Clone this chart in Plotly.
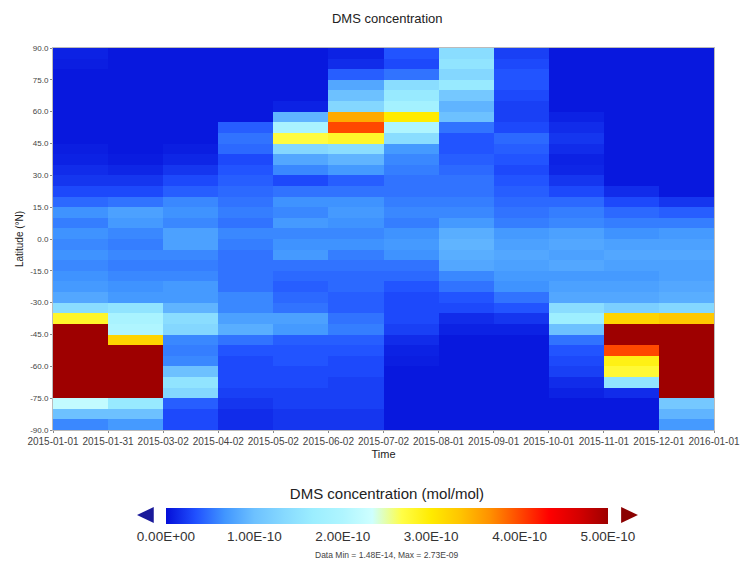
import plotly.graph_objects as go

# ---------------- data (DMS concentration, units of 1e-10 mol/mol) ----------------
# latitude band centres, north -> south (5 degree bands)
lat = [87.5, 82.5, 77.5, 72.5, 67.5, 62.5, 57.5, 52.5, 47.5, 42.5, 37.5, 32.5,
       27.5, 22.5, 17.5, 12.5, 7.5, 2.5, -2.5, -7.5, -12.5, -17.5, -22.5, -27.5,
       -32.5, -37.5, -42.5, -47.5, -52.5, -57.5, -62.5, -67.5, -72.5, -77.5, -82.5, -87.5]

time_labels = ["2015-01-01", "2015-01-31", "2015-03-02", "2015-04-02", "2015-05-02",
               "2015-06-02", "2015-07-02", "2015-08-01", "2015-09-01", "2015-10-01",
               "2015-11-01", "2015-12-01", "2016-01-01"]

jan = [0.1, 0.08, 0.05, 0.05, 0.05, 0.05, 0.05, 0.05, 0.05, 0.08, 0.1, 0.15,
       0.2, 0.3, 0.45, 0.65, 0.55, 0.65, 0.6, 0.65, 0.6, 0.65, 0.7, 0.8,
       1.4, 2.8, 6, 6, 6, 6, 6, 6, 6, 2.2, 1.0, 0.6]
feb = [0.05, 0.05, 0.05, 0.05, 0.05, 0.05, 0.05, 0.05, 0.05, 0.05, 0.07, 0.12,
       0.2, 0.3, 0.5, 0.75, 0.7, 0.6, 0.55, 0.6, 0.55, 0.6, 0.65, 0.7,
       1.5, 1.9, 2.0, 3.2, 6, 6, 6, 6, 5.5, 1.6, 1.0, 0.7]
mar = [0.05, 0.05, 0.05, 0.05, 0.05, 0.05, 0.05, 0.05, 0.05, 0.08, 0.12, 0.2,
       0.3, 0.4, 0.6, 0.65, 0.6, 0.75, 0.75, 0.6, 0.55, 0.6, 0.7, 0.7,
       0.9, 1.4, 1.3, 0.6, 0.55, 0.6, 1.0, 1.5, 1.3, 0.4, 0.3, 0.3]
apr = [0.05, 0.05, 0.05, 0.05, 0.05, 0.05, 0.05, 0.4, 0.5, 0.45, 0.3, 0.35,
       0.4, 0.45, 0.5, 0.55, 0.5, 0.6, 0.55, 0.5, 0.5, 0.5, 0.5, 0.6,
       0.6, 0.75, 0.85, 0.5, 0.35, 0.3, 0.3, 0.3, 0.25, 0.2, 0.15, 0.15]
may = [0.05, 0.05, 0.05, 0.05, 0.05, 0.1, 0.9, 1.9, 2.7, 1.3, 0.8, 0.6,
       0.3, 0.5, 0.65, 0.6, 0.7, 0.6, 0.65, 0.7, 0.5, 0.45, 0.4, 0.45,
       0.5, 0.75, 0.7, 0.4, 0.35, 0.35, 0.3, 0.3, 0.25, 0.25, 0.2, 0.2]
jun = [0.1, 0.15, 0.4, 0.8, 1.0, 1.3, 3.5, 4.0, 2.8, 1.4, 0.9, 0.7,
       0.4, 0.5, 0.65, 0.7, 0.65, 0.6, 0.65, 0.55, 0.5, 0.45, 0.45, 0.4,
       0.4, 0.5, 0.55, 0.4, 0.35, 0.3, 0.3, 0.25, 0.25, 0.25, 0.2, 0.2]
jul = [0.35, 0.3, 0.5, 1.4, 1.6, 1.8, 3.0, 2.0, 1.4, 0.7, 0.6, 0.55,
       0.5, 0.5, 0.55, 0.6, 0.55, 0.65, 0.7, 0.65, 0.5, 0.45, 0.35, 0.3,
       0.3, 0.3, 0.25, 0.15, 0.1, 0.08, 0.05, 0.05, 0.05, 0.05, 0.05, 0.05]
aug = [1.4, 1.5, 1.3, 1.6, 1.1, 0.9, 1.0, 0.5, 0.35, 0.35, 0.4, 0.45,
       0.5, 0.5, 0.55, 0.6, 0.7, 0.85, 0.9, 0.85, 0.8, 0.6, 0.5, 0.35,
       0.3, 0.15, 0.1, 0.05, 0.05, 0.05, 0.05, 0.05, 0.05, 0.05, 0.05, 0.05]
sep = [0.25, 0.3, 0.35, 0.35, 0.3, 0.25, 0.25, 0.3, 0.45, 0.4, 0.35, 0.3,
       0.35, 0.4, 0.45, 0.5, 0.55, 0.7, 0.75, 0.8, 0.75, 0.7, 0.65, 0.5,
       0.35, 0.2, 0.1, 0.05, 0.05, 0.05, 0.05, 0.05, 0.05, 0.05, 0.05, 0.05]
oct_ = [0.05, 0.05, 0.05, 0.05, 0.05, 0.05, 0.1, 0.15, 0.2, 0.15, 0.1, 0.12,
        0.2, 0.3, 0.45, 0.55, 0.6, 0.75, 0.8, 0.75, 0.8, 0.7, 0.75, 0.8,
        1.4, 1.7, 1.0, 0.5, 0.35, 0.3, 0.25, 0.15, 0.1, 0.05, 0.05, 0.05]
nov = [0.05, 0.05, 0.05, 0.05, 0.05, 0.05, 0.05, 0.05, 0.05, 0.05, 0.05, 0.05,
       0.05, 0.15, 0.3, 0.45, 0.55, 0.65, 0.75, 0.8, 0.75, 0.7, 0.75, 0.8,
       1.2, 3.2, 5.5, 5.5, 4.0, 2.9, 2.75, 1.5, 0.15, 0.05, 0.05, 0.05]
dec = [0.05, 0.05, 0.05, 0.05, 0.05, 0.05, 0.05, 0.05, 0.05, 0.05, 0.05, 0.05,
       0.05, 0.05, 0.2, 0.4, 0.55, 0.7, 0.75, 0.8, 0.75, 0.75, 0.8, 0.85,
       1.3, 3.3, 6, 6, 6, 6, 6, 6, 5.0, 1.1, 0.9, 0.7]

months = [jan, feb, mar, apr, may, jun, jul, aug, sep, oct_, nov, dec]
unit = 1e-10

lat_ticks = [90, 75, 60, 45, 30, 15, 0, -15, -30, -45, -60, -75, -90]
lat_ticktext = ["90.0", "75.0", "60.0", "45.0", "30.0", "15.0", "0.0", "-15.0",
                "-30.0", "-45.0", "-60.0", "-75.0", "-90.0"]
cb_ticks = [0, 1e-10, 2e-10, 3e-10, 4e-10, 5e-10]
cb_ticktext = ["0.00E+00", "1.00E-10", "2.00E-10", "3.00E-10", "4.00E-10", "5.00E-10"]

panoply = ["#040ED8", "#2050FF", "#4196FF", "#6DC1FF", "#86D9FF", "#9CEEFF",
           "#AFF5FF", "#CEFFFF", "#FFFE47", "#FFEB00", "#FFC400", "#FF9000",
           "#FF4800", "#FF0000", "#D50000", "#9E0000"]

# ---------------- build figure ----------------
z = [[m[i] * unit for m in months] for i in range(len(lat))]
x_edges = list(range(len(months) + 1))
colorscale = [[k / (len(panoply) - 1), c] for k, c in enumerate(panoply)]

W, H = 752, 564
ml, mr, mt, mb = 53, 30, 48, 134
pw, ph = W - ml - mr, H - mt - mb

def px(xp):
    return (xp - ml) / pw

def py(yp):
    return (H - mb - yp) / ph

cb_len = 462
cb_cx = 391
cb_cy = 515
cb_th = 16

fig = go.Figure(go.Heatmap(
    z=z, x=x_edges, y=lat,
    zmin=0, zmax=5e-10,
    colorscale=colorscale,
    colorbar=dict(
        orientation="h",
        x=px(cb_cx), xanchor="center",
        y=py(cb_cy), yanchor="middle", ypad=0,
        len=cb_len, lenmode="pixels",
        thickness=cb_th, outlinewidth=0,
        title=dict(text="DMS concentration (mol/mol)", side="top",
                   font=dict(size=15, color="#222")),
        tickvals=cb_ticks, ticktext=cb_ticktext, ticks="",
        tickfont=dict(size=13.5, color="#333"),
    ),
    hoverinfo="skip",
))

# end arrows of the colorbar
half = cb_len / 2
l0, r0 = cb_cx - half, cb_cx + half
arrow_w = 17
top_, bot_ = cb_cy - cb_th / 2, cb_cy + cb_th / 2
fig.add_shape(type="path", xref="paper", yref="paper",
              path=f"M {px(l0-5)} {py(top_)} L {px(l0-5)} {py(bot_)} L {px(l0-5-arrow_w)} {py(cb_cy)} Z",
              fillcolor="#1a1a9a", line=dict(width=0))
fig.add_shape(type="path", xref="paper", yref="paper",
              path=f"M {px(r0+6)} {py(top_)} L {px(r0+6)} {py(bot_)} L {px(r0+6+arrow_w)} {py(cb_cy)} Z",
              fillcolor="#8b0000", line=dict(width=0))

fig.add_annotation(text="Data Min = 1.48E-14, Max = 2.73E-09",
                   xref="paper", yref="paper", x=px(cb_cx), y=py(555),
                   showarrow=False, font=dict(size=8.5, color="#444"),
                   xanchor="center", yanchor="middle")

fig.update_layout(
    width=W, height=H,
    margin=dict(l=ml, r=mr, t=mt, b=mb),
    paper_bgcolor="white", plot_bgcolor="white",
    font=dict(family="Liberation Sans, Arial, sans-serif", color="#333"),
    title=dict(text="DMS concentration", x=0.515, xanchor="center",
               y=1 - 18 / H, yanchor="middle",
               font=dict(size=13, color="#222")),
    xaxis=dict(range=[0, 12], tickvals=x_edges, ticktext=time_labels,
               tickangle=0,
               tickfont=dict(size=10, color="#444"), ticks="outside", ticklen=2,
               tickcolor="#888",
               showgrid=False, zeroline=False, showline=True, linecolor="#bbb",
               linewidth=1, mirror=True,
               title=dict(text="Time", font=dict(size=11, color="#222"), standoff=4)),
    yaxis=dict(range=[-90, 90], tickvals=lat_ticks, ticktext=lat_ticktext,
               tickfont=dict(size=8, color="#444"), ticks="outside", ticklen=2,
               tickcolor="#888",
               showgrid=False, zeroline=False, showline=True, linecolor="#bbb",
               linewidth=1, mirror=True,
               title=dict(text="Latitude (°N)", font=dict(size=10, color="#222"), standoff=4)),
)

fig.write_html("out.html")
